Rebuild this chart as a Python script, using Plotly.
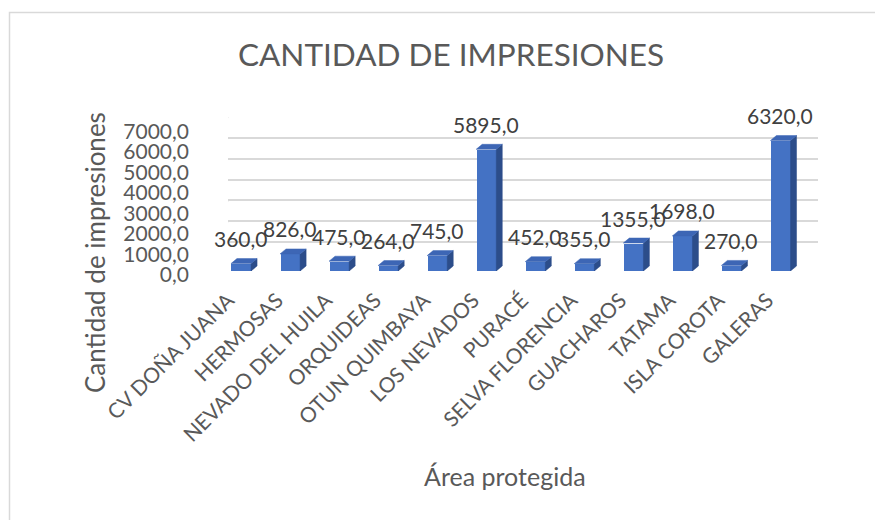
import plotly.graph_objects as go

# ---------------- data ----------------
categories = ["CV DOÑA JUANA", "HERMOSAS", "NEVADO DEL HUILA", "ORQUIDEAS",
              "OTUN QUIMBAYA", "LOS NEVADOS", "PURACÉ", "SELVA FLORENCIA",
              "GUACHAROS", "TATAMA", "ISLA COROTA", "GALERAS"]
impresiones = [360, 826, 475, 264, 745, 5895, 452, 355, 1355, 1698, 270, 6320]
y_tick_vals = [0, 1000, 2000, 3000, 4000, 5000, 6000, 7000]
y_tick_text = ["0,0", "1000,0", "2000,0", "3000,0", "4000,0", "5000,0", "6000,0", "7000,0"]
data_labels = [f"{v:.1f}".replace(".", ",") for v in impresiones]

title_text = "CANTIDAD DE IMPRESIONES"
x_title = "Área protegida"
y_title = "Cantidad de impresiones"

# ---------------- layout helpers ----------------
W, H = 875, 520
def px(x):
    return x / W
def py(y):
    return 1 - y / H

FONT = "Lato, Carlito, Calibri, sans-serif"
TXT = "#595959"
FRONT = "#4472C4"
TOP = "#3D66B5"
SIDE = "#2C4D8A"
GRID = "#D9D9D9"

n = len(categories)
bar_w = 0.41
bar_px_x = (805 - 216.5) / n
bar_px_y = (271 - 126.5) / 7000
dx = 6 / bar_px_x
dy = 5 / bar_px_y

fig = go.Figure()

fig.add_trace(go.Scatter(x=[0], y=[0], mode="markers", marker=dict(opacity=0),
                         hoverinfo="skip", showlegend=False, xaxis="x", yaxis="y"))

xs = list(range(n))
fig.add_trace(go.Bar(x=xs, y=impresiones, width=bar_w, marker=dict(color=FRONT, line=dict(width=0)),
                     hoverinfo="skip", showlegend=False, xaxis="x2", yaxis="y2"))

side_x, side_y, top_x, top_y = [], [], [], []
for i, v in zip(xs, impresiones):
    xl = i - bar_w / 2
    xr = i + bar_w / 2
    side_x += [xr, xr, xr + dx, xr + dx, xr, None]
    side_y += [0, v, v + dy, dy, 0, None]
    top_x += [xl, xr, xr + dx, xl + dx, xl, None]
    top_y += [v, v, v + dy, v + dy, v, None]

fig.add_trace(go.Scatter(x=side_x, y=side_y, mode="lines", fill="toself", fillcolor=SIDE,
                         line=dict(width=0.5, color=SIDE), hoverinfo="skip", showlegend=False,
                         xaxis="x2", yaxis="y2"))
fig.add_trace(go.Scatter(x=top_x, y=top_y, mode="lines", fill="toself", fillcolor=TOP,
                         line=dict(width=0.5, color=TOP), hoverinfo="skip", showlegend=False,
                         xaxis="x2", yaxis="y2"))

fig.add_trace(go.Scatter(x=[0], y=[0], mode="markers", marker=dict(opacity=0),
                         hoverinfo="skip", showlegend=False, xaxis="x2", yaxis="y3"))

shapes = []
for v in y_tick_vals:
    shapes.append(dict(type="line", xref="x", yref="y", xsizemode="pixel", ysizemode="pixel",
                       xanchor=0, yanchor=v, x0=0, x1=-16, y0=0, y1=-13,
                       line=dict(color=GRID, width=2), layer="below"))
shapes.append(dict(type="rect", xref="paper", yref="paper", x0=px(9.5), x1=1.05,
                   y0=-0.05, y1=py(12.5), line=dict(color=GRID, width=1.5), layer="below"))

annotations = []
for i, v, t in zip(xs, impresiones, data_labels):
    annotations.append(dict(x=i, y=v, xref="x2", yref="y2", text=t, showarrow=False,
                            yshift=25, xanchor="center", yanchor="middle",
                            font=dict(family=FONT, size=21, color="#404040")))
annotations.append(dict(x=px(450.5), y=py(54), xref="paper", yref="paper", text=title_text,
                        showarrow=False, xanchor="center", yanchor="middle",
                        font=dict(family=FONT, size=31.5, color=TXT)))
annotations.append(dict(x=px(505), y=py(476), xref="paper", yref="paper", text=x_title,
                        showarrow=False, xanchor="center", yanchor="middle",
                        font=dict(family=FONT, size=25, color=TXT)))
annotations.append(dict(x=px(95), y=py(253), xref="paper", yref="paper", text=y_title,
                        showarrow=False, xanchor="center", yanchor="middle", textangle=-90,
                        font=dict(family=FONT, size=26, color=TXT)))

fig.update_layout(
    width=W, height=H,
    autosize=False,
    margin=dict(l=0, r=0, t=0, b=0, pad=0, autoexpand=False),
    paper_bgcolor="white", plot_bgcolor="rgba(0,0,0,0)",
    font=dict(family=FONT, color=TXT),
    showlegend=False,
    hovermode=False,
    xaxis=dict(domain=[px(228), px(818)], range=[0, 1], visible=False, anchor="y",
               automargin=False),
    yaxis=dict(domain=[py(263), py(117)], range=[0, 7000], tickvals=y_tick_vals,
               showgrid=True, gridcolor=GRID, gridwidth=2, zeroline=False,
               showticklabels=False, ticks="", showline=False, anchor="x", automargin=False),
    xaxis2=dict(domain=[px(216.5), px(805)], range=[-0.5, n - 0.5], anchor="y2",
                tickvals=xs, ticktext=categories, tickangle=-45, ticks="",
                ticklabelstandoff=12, ticklabelshift=-13,
                showgrid=False, zeroline=False, showline=False, automargin=False,
                tickfont=dict(family=FONT, size=21, color=TXT)),
    yaxis2=dict(domain=[py(271), py(126.5)], range=[0, 7000], visible=False, anchor="x2",
                automargin=False),
    yaxis3=dict(domain=[py(275), py(131.5)], range=[0, 7000], anchor="free",
                position=px(189), side="left", tickvals=y_tick_vals, ticktext=y_tick_text,
                ticks="", showgrid=False, zeroline=False, showline=False, automargin=False,
                tickfont=dict(family=FONT, size=21, color=TXT)),
    shapes=shapes,
    annotations=annotations,
    bargap=0,
)

fig.write_html("out.html", config={"responsive": False, "displayModeBar": False},
               post_script="document.body.style.margin='0';")
